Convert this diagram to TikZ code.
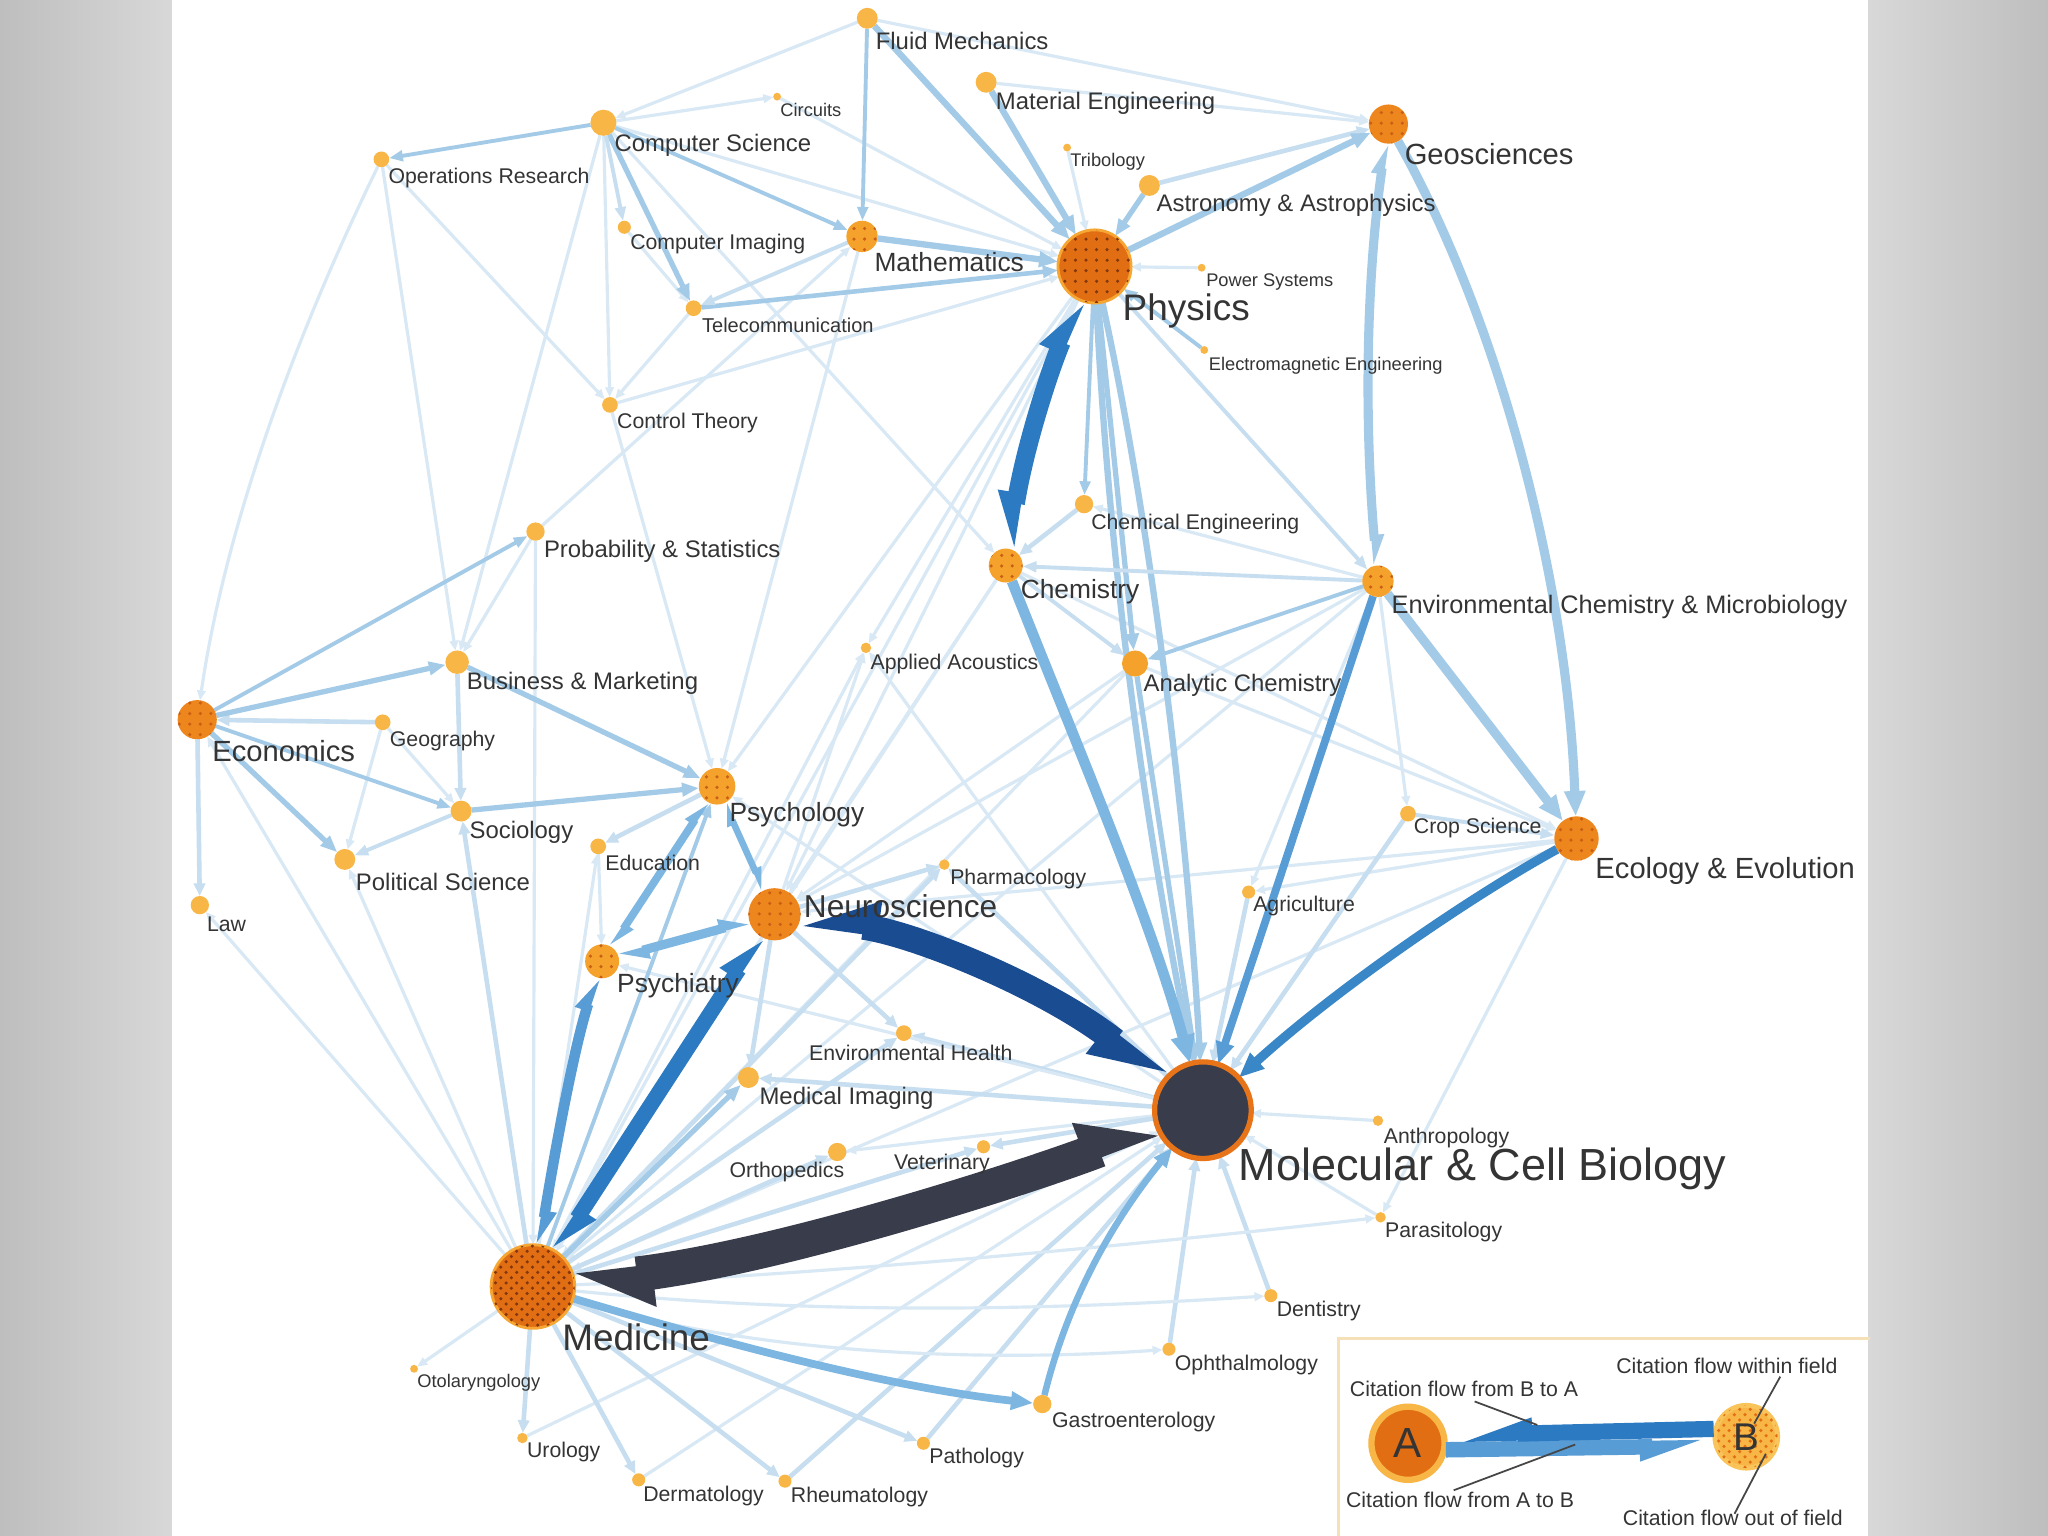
\documentclass[tikz,border=0pt]{standalone}
\usepackage{fontspec}
\setmainfont{Liberation Sans}
\usetikzlibrary{arrows.meta,calc,patterns}
\pgfdeclarelayer{back}
\pgfdeclarelayer{edges}
\pgfsetlayers{back,edges,main}
\definecolor{c0}{RGB}{216,232,244}
\definecolor{c1}{RGB}{198,222,239}
\definecolor{c2}{RGB}{163,202,231}
\definecolor{c3}{RGB}{125,182,224}
\definecolor{c4}{RGB}{88,156,213}
\definecolor{c45}{RGB}{58,135,200}
\definecolor{c5}{RGB}{44,122,193}
\definecolor{c6}{RGB}{26,76,146}
\definecolor{cdk}{RGB}{57,60,74}
\definecolor{oS}{RGB}{247,182,70}
\definecolor{oM}{RGB}{245,162,45}
\definecolor{oD}{RGB}{238,134,30}
\definecolor{oL}{RGB}{226,110,20}
\definecolor{oR}{RGB}{232,116,26}
\definecolor{oRing}{RGB}{246,166,50}
\definecolor{brn}{RGB}{130,55,15}
\definecolor{dotc}{RGB}{200,95,20}
\definecolor{tx}{RGB}{52,52,52}
\definecolor{lbx}{RGB}{246,224,184}
\definecolor{ld}{RGB}{70,70,70}
\newcommand\szT{\fontsize{5.2}{6}\selectfont}
\newcommand\szS{\fontsize{6.05}{7}\selectfont}
\newcommand\szN{\fontsize{6.8}{8}\selectfont}
\newcommand\szM{\fontsize{7.5}{9}\selectfont}
\newcommand\szB{\fontsize{8.3}{10}\selectfont}
\newcommand\szNe{\fontsize{9}{11}\selectfont}
\newcommand\szH{\fontsize{10.5}{12}\selectfont}
\newcommand\szX{\fontsize{12.8}{15}\selectfont}
\tikzset{
  fn/.style={circle,inner sep=0pt,outer sep=0pt,minimum size=#1*0.026122cm,fill=oS,draw=none},
  dotted fill/.style={postaction={pattern=dots,pattern color=dotc}},
  lab/.style={anchor=west,inner sep=0pt,text=tx},
  e0/.style={draw=c0,line width=0.9pt,-{Stealth[inset=0pt,length=2.8pt,width=2.4pt]}},
  e1/.style={draw=c1,line width=1.3pt,-{Stealth[inset=0pt,length=3.6pt,width=3.2pt]}},
  fw/.style 2 args={draw=#1,line width=#2,-{Stealth[inset=0pt,length=1.5pt 2.2,width=1pt 1.8]}},
  bwL/.style 2 args={draw=#1,line width=#2,{Stealth[harpoon,inset=0pt,length=1pt 2.2,width=0.5pt 1.9]}-{Stealth[harpoon,inset=0pt,length=1pt 2.2,width=0.5pt 1.9]}},
  bwR/.style 2 args={draw=#1,line width=#2,{Stealth[harpoon,swap,inset=0pt,length=1pt 2.2,width=0.5pt 1.9]}-{Stealth[harpoon,swap,inset=0pt,length=1pt 2.2,width=0.5pt 1.9]}},
  bwM/.style 2 args={draw=#1,line width=#2,{Stealth[harpoon,swap,inset=0pt,length=1pt 2.2,width=0.5pt 1.9]}-{Stealth[harpoon,inset=0pt,length=1pt 2.2,width=0.5pt 1.9]}},
  bwD/.style 2 args={draw=#1,line width=#2,{Stealth[harpoon,inset=0pt,length=1pt 1.7,width=0.5pt 1.8]}-{Stealth[harpoon,inset=0pt,length=1pt 1.7,width=0.5pt 1.8]}},
  lead/.style={draw=ld,line width=0.5pt},
}
\begin{document}
\begin{tikzpicture}[x=0.013061cm,y=-0.013061cm]
\useasboundingbox (0,0) rectangle (1568,1176);
\begin{pgfonlayer}{back}
\shade[left color={rgb,255:red,190;green,190;blue,190},right color={rgb,255:red,216;green,216;blue,216}] (0,0) rectangle (132,1176);
\shade[left color={rgb,255:red,216;green,216;blue,216},right color={rgb,255:red,190;green,190;blue,190}] (1430,0) rectangle (1568,1176);
\fill[white] (132,0) rectangle (1430,1176);
\end{pgfonlayer}

% ---------------- nodes
\node[fn=8] (fluid) at (664,14) {};
\node[fn=8] (mateng) at (755,63) {};
\node[fn=3] (circ) at (595,74) {};
\node[fn=10] (cs) at (462,94) {};
\node[fn=6] (opsr) at (292,122) {};
\node[fn=15,fill=oD,dotted fill] (geo) at (1063,95) {};
\node[fn=3] (trib) at (817,113) {};
\node[fn=8] (astro) at (880,142) {};
\node[fn=5] (cimg) at (478,174) {};
\node[fn=12,fill=oM,dotted fill] (math) at (660,181) {};
\node[fn=28,fill=oL,draw=oRing,line width=0.8pt,postaction={pattern=dots,pattern color=brn}] (phys) at (838,204) {};
\node[fn=3] (powsys) at (920,205) {};
\node[fn=6] (tele) at (531,236) {};
\node[fn=3] (eme) at (922,268) {};
\node[fn=6] (ctrl) at (467,310) {};
\node[fn=7] (cheme) at (830,386) {};
\node[fn=7] (prob) at (410,407) {};
\node[fn=13,fill=oM,dotted fill] (chem) at (770,433) {};
\node[fn=12,fill=oM,dotted fill] (envc) at (1055,445) {};
\node[fn=4] (acou) at (663,496) {};
\node[fn=10,fill=oM] (anch) at (869,508) {};
\node[fn=9] (bus) at (350,507) {};
\node[fn=15,fill=oD,dotted fill] (econ) at (151,551) {};
\node[fn=6] (geog) at (293,553) {};
\node[fn=14,fill=oM,dotted fill] (psyc) at (549,602) {};
\node[fn=8] (soc) at (353,621) {};
\node[fn=6] (crop) at (1078,623) {};
\node[fn=17,fill=oD,dotted fill] (eco) at (1207,642) {};
\node[fn=6] (edu) at (458,648) {};
\node[fn=8] (pol) at (264,658) {};
\node[fn=4] (pharm) at (723,662) {};
\node[fn=5] (agri) at (956,683) {};
\node[fn=7] (law) at (153,693) {};
\node[fn=20,fill=oD,dotted fill] (neuro) at (593,700) {};
\node[fn=13,fill=oM,dotted fill] (psyi) at (461,736) {};
\node[fn=6] (envh) at (692,791) {};
\node[fn=8] (medimg) at (573,825) {};
\node[fn=37,fill=cdk,draw=oR,line width=1.5pt] (mcb) at (921,850) {};
\node[fn=4] (anth) at (1055,858) {};
\node[fn=7] (orth) at (641,882) {};
\node[fn=5] (vet) at (753,878) {};
\node[fn=4] (para) at (1057,932) {};
\node[fn=32,fill=oL,draw=oRing,line width=0.8pt,postaction={pattern=crosshatch dots,pattern color=brn}] (med) at (408,985) {};
\node[fn=5] (dent) at (973,992) {};
\node[fn=5] (oph) at (895,1033) {};
\node[fn=3] (otol) at (317,1048) {};
\node[fn=7] (gast) at (798,1075) {};
\node[fn=4] (urol) at (400,1101) {};
\node[fn=5] (path) at (707,1105) {};
\node[fn=5] (derm) at (489,1133) {};
\node[fn=5] (rheu) at (601,1134) {};

% ---------------- edges
\begin{pgfonlayer}{edges}
% very thin
\draw[e0] (fluid) -- (cs);
\draw[e0] (fluid) -- (geo);
\draw[e0] (mateng) -- (geo);
\draw[e0] (circ) -- (phys);
\draw[e0] (cs) -- (circ);
\draw[e0] (cs) -- (ctrl);
\draw[e0] (cs) -- (bus);
\draw[e0] (cs) -- (chem);
\draw[e0] (cs) -- (phys);
\draw[e0] (opsr) -- (ctrl);
\draw[e0] (opsr) -- (bus);
\draw[e0] (opsr) .. controls (215,280) and (170,420) .. (econ);
\draw[e0] (cimg) -- (tele);
\draw[e0] (tele) -- (ctrl);
\draw[e0] (ctrl) -- (phys);
\draw[e0] (ctrl) -- (psyc);
\draw[e0] (prob) -- (math);
\draw[e0] (prob) -- (bus);
\draw[e0] (prob) -- (med);
\draw[e0] (math) -- (psyc);
\draw[e0] (phys) -- (neuro);
\draw[e0] (phys) -- (med);
\draw[e0] (phys) -- (psyc);
\draw[e0] (phys) -- (acou);
\draw[e0] (trib) -- (phys);
\draw[e0] (powsys) -- (phys);
\draw[e1] (astro) -- (geo);
\draw[e0] (chem) -- (med);
\draw[e0] (chem) -- (neuro);
\draw[e0] (chem) -- (eco);
\draw[e1] (cheme) -- (chem);
\draw[e0] (envc) -- (cheme);
\draw[e0] (envc) -- (crop);
\draw[e0] (envc) -- (agri);
\draw[e0] (envc) -- (neuro);
\draw[e0] (envc) -- (med);
\draw[e0] (anch) -- (eco);
\draw[e0] (anch) -- (neuro);
\draw[e0] (anch) -- (med);
\draw[e0] (eco) -- (agri);
\draw[e0] (eco) -- (neuro);
\draw[e0] (eco) -- (med);
\draw[e0] (eco) -- (para);
\draw[e1] (crop) -- (mcb);
\draw[e1] (agri) -- (mcb);
\draw[e0] (anth) -- (mcb);
\draw[e0] (para) -- (mcb);
\draw[e1] (dent) -- (mcb);
\draw[e1] (oph) -- (mcb);
\draw[e1] (path) -- (mcb);
\draw[e1] (rheu) -- (mcb);
\draw[e0] (derm) -- (mcb);
\draw[e0] (urol) -- (mcb);
\draw[e1] (mcb) -- (medimg);
\draw[e1] (mcb) -- (envh);
\draw[e1] (mcb) -- (pharm);
\draw[e0] (mcb) -- (orth);
\draw[e1] (mcb) -- (vet);
\draw[e0] (mcb) -- (psyi);
\draw[e0] (mcb) -- (psyc);
\draw[e0] (mcb) -- (acou);
\draw[e1] (med) -- (envh);
\draw[e1] (med) -- (orth);
\draw[e1] (med) -- (vet);
\draw[e1] (med) -- (pharm);
\draw[e0] (med) -- (otol);
\draw[e1] (med) -- (urol);
\draw[e1] (med) -- (derm);
\draw[e1] (med) -- (rheu);
\draw[e1] (med) -- (path);
\draw[e0] (med) .. controls (600,1045) and (800,1040) .. (oph);
\draw[e0] (med) .. controls (650,1010) and (850,1000) .. (dent);
\draw[e0] (med) .. controls (650,975) and (900,950) .. (para);
\draw[e0] (med) -- (edu);
\draw[e1] (med) -- (soc);
\draw[e0] (med) -- (pol);
\draw[e0] (med) -- (law);
\draw[e0] (med) -- (econ);
\draw[e0] (med) -- (acou);
\draw[e1] (neuro) -- (medimg);
\draw[e1] (neuro) -- (envh);
\draw[e1] (neuro) -- (pharm);
\draw[e0] (neuro) -- (acou);
\draw[e1] (psyc) -- (edu);
\draw[e1] (geog) -- (econ);
\draw[e1] (econ) -- (law);
\draw[e0] (geog) -- (soc);
\draw[e0] (geog) -- (pol);
\draw[e1] (bus) -- (soc);
\draw[e0] (edu) -- (psyi);
% medium
\draw[fw={c2}{1.8pt}] (fluid) -- (phys);
\draw[fw={c2}{1.1pt}] (fluid) -- (math);
\draw[fw={c2}{1.8pt}] (mateng) -- (phys);
\draw[fw={c2}{1.8pt}] (math) -- (phys);
\draw[fw={c2}{1.5pt}] (astro) -- (phys);
\draw[fw={c2}{1.8pt}] (phys) -- (geo);
\draw[fw={c2}{1.1pt}] (eme) -- (phys);
\draw[fw={c2}{1.1pt}] (phys) -- (cheme);
\draw[fw={c2}{1.5pt}] (phys) -- (anch);
\draw[fw={c2}{1.8pt}] (phys) .. controls (850,450) and (880,650) .. (mcb);
\draw[fw={c2}{1.8pt}] (phys) .. controls (885,420) and (910,650) .. (mcb);
\draw[fw={c1}{1.1pt}] (phys) -- (envc);
\draw[fw={c2}{1.5pt}] (cs) -- (tele);
\draw[fw={c2}{1.1pt}] (cs) -- (opsr);
\draw[fw={c2}{1.1pt}] (cs) -- (math);
\draw[fw={c2}{1.3pt}] (tele) -- (phys);
\draw[fw={c1}{1.1pt}] (math) -- (tele);
\draw[fw={c1}{1.1pt}] (cs) -- (cimg);
\draw[fw={c2}{1.5pt}] (econ) -- (bus);
\draw[fw={c2}{1.5pt}] (econ) -- (pol);
\draw[fw={c2}{1.1pt}] (econ) -- (soc);
\draw[fw={c2}{1.1pt}] (econ) -- (prob);
\draw[fw={c1}{1.1pt}] (soc) -- (pol);
\draw[fw={c2}{1.5pt}] (bus) -- (psyc);
\draw[fw={c2}{1.5pt}] (soc) -- (psyc);
\draw[fw={c1}{1.1pt}] (chem) -- (anch);
\draw[fw={c1}{1.1pt}] (envc) -- (chem);
\draw[fw={c2}{1.1pt}] (envc) -- (anch);
\draw[fw={c2}{1.5pt}] (anch) -- (mcb);
\draw[fw={c1}{1.1pt}] (crop) -- (eco);
\draw[fw={c2}{1.5pt}] (med) -- (medimg);
\draw[fw={c2}{1.1pt}] (med) -- (psyc);
\draw[fw={c3}{2.2pt}] (med) .. controls (560,1030) and (680,1062) .. (gast);
\draw[fw={c3}{1.85pt}] (gast) .. controls (820,985) and (860,925) .. (mcb);
% bands
\draw[bwL={c3}{2.2pt}] (psyc) -- (psyi);
\draw[bwL={c3}{1.85pt}] (psyc) -- (neuro);
\draw[bwL={c3}{2.6pt}] (psyi) -- (neuro);
\draw[bwL={c4}{3pt}] (med) .. controls (425,880) and (440,800) .. (psyi);
\draw[bwL={c5}{4.4pt}] (med) -- (neuro);
\draw[fw={c3}{3pt}] (chem) .. controls (820,560) and (880,700) .. (mcb);
\draw[fw={c4}{2.2pt}] (envc) -- (mcb);
\draw[fw={c45}{2.6pt}] (eco) .. controls (1120,690) and (1020,760) .. (mcb);
\draw[bwL={c2}{2.6pt}] (geo) .. controls (1045,220) and (1045,330) .. (envc);
\draw[fw={c2}{2.6pt}] (geo) .. controls (1150,250) and (1200,450) .. (eco);
\draw[fw={c2}{2.6pt}] (envc) -- (eco);
\draw[bwM={c5}{5.2pt}] (chem) .. controls (785,340) and (805,280) .. (phys);
\draw[bwR={c6}{7.4pt}] (neuro) .. controls (700,715) and (800,755) .. (mcb);
\draw[bwD={cdk}{10pt}] (med) .. controls (600,962) and (790,900) .. (mcb);
\end{pgfonlayer}

% ---------------- labels
\node[lab,font=\szN] (Lfluid) at (670,31) {Fluid Mechanics};
\node[lab,font=\szN] (Lmateng) at (762,79) {Material Engineering};
\node[lab,font=\szT] (Lcirc) at (597,84) {Circuits};
\node[lab,font=\szN] (Lcs) at (470,111) {Computer Science};
\node[lab,font=\szS] (Lopsr) at (297,136) {Operations Research};
\node[lab,font=\szB] (Lgeo) at (1075,118) {Geosciences};
\node[lab,font=\szT] (Ltrib) at (819,124) {Tribology};
\node[lab,font=\szN] (Lastro) at (885,157) {Astronomy \& Astrophysics};
\node[lab,font=\szS] (Lcimg) at (482,187) {Computer Imaging};
\node[lab,font=\szM] (Lmath) at (669,201) {Mathematics};
\node[lab,font=\szH] (Lphys) at (859,238) {Physics};
\node[lab,font=\szT] (Lpowsys) at (923,216) {Power Systems};
\node[lab,font=\fontsize{5.7}{7}\selectfont] (Ltele) at (537,249) {Telecommunication};
\node[lab,font=\szT] (Leme) at (925,280) {Electromagnetic Engineering};
\node[lab,font=\szS] (Lctrl) at (472,324) {Control Theory};
\node[lab,font=\szS] (Lcheme) at (835,401) {Chemical Engineering};
\node[lab,font=\szN] (Lprob) at (416,422) {Probability \& Statistics};
\node[lab,font=\szM] (Lchem) at (781,453) {Chemistry};
\node[lab,font=\fontsize{7.2}{9}\selectfont] (Lenvc) at (1065,465) {Environmental Chemistry \& Microbiology};
\node[lab,font=\szS] (Lacou) at (666,508) {Applied Acoustics};
\node[lab,font=\szN] (Lanch) at (875,525) {Analytic Chemistry};
\node[lab,font=\szN] (Lbus) at (357,523) {Business \& Marketing};
\node[lab,font=\szB] (Lecon) at (162,575) {Economics};
\node[lab,font=\szS] (Lgeog) at (298,567) {Geography};
\node[lab,font=\szM] (Lpsyc) at (558,624) {Psychology};
\node[lab,font=\szN] (Lsoc) at (359,637) {Sociology};
\node[lab,font=\szS] (Lcrop) at (1082,634) {Crop Science};
\node[lab,font=\szB] (Leco) at (1221,667) {Ecology \& Evolution};
\node[lab,font=\szS] (Ledu) at (463,661) {Education};
\node[lab,font=\szN] (Lpol) at (272,675) {Political Science};
\node[lab,font=\szS] (Lpharm) at (727,673) {Pharmacology};
\node[lab,font=\szS] (Lagri) at (959,694) {Agriculture};
\node[lab,font=\szS] (Llaw) at (158,708) {Law};
\node[lab,font=\szNe] (Lneuro) at (615,694) {Neuroscience};
\node[lab,font=\szM] (Lpsyi) at (472,755) {Psychiatry};
\node[lab,font=\szS] (Lenvh) at (619,806) {Environmental Health};
\node[lab,font=\szN] (Lmedimg) at (581,841) {Medical Imaging};
\node[lab,font=\szX] (Lmcb) at (948,895) {Molecular \& Cell Biology};
\node[lab,font=\szS] (Lanth) at (1059,871) {Anthropology};
\node[lab,font=\szS] (Lorth) at (558,897) {Orthopedics};
\node[lab,font=\szS] (Lvet) at (684,891) {Veterinary};
\node[lab,font=\szS] (Lpara) at (1060,943) {Parasitology};
\node[lab,font=\szH] (Lmed) at (430,1024) {Medicine};
\node[lab,font=\szS] (Ldent) at (977,1004) {Dentistry};
\node[lab,font=\szS] (Loph) at (899,1045) {Ophthalmology};
\node[lab,font=\szT] (Lotol) at (319,1059) {Otolaryngology};
\node[lab,font=\szS] (Lgast) at (805,1089) {Gastroenterology};
\node[lab,font=\szS] (Lurol) at (403,1112) {Urology};
\node[lab,font=\szS] (Lpath) at (711,1116) {Pathology};
\node[lab,font=\szS] (Lderm) at (492,1145) {Dermatology};
\node[lab,font=\szS] (Lrheu) at (605,1146) {Rheumatology};

% ---------------- legend
\draw[draw=lbx,line width=0.9pt] (1025,1176) -- (1025,1025) -- (1432,1025);
\node[fn=28,fill=oL,draw=oS,line width=1.8pt,text=tx,font=\fontsize{12}{12}\selectfont] (lA) at (1078,1105) {A};
\node[fn=24,fill=oS,draw={rgb,255:red,249;green,196;blue,90},line width=1.4pt,text=tx,font=\fontsize{11}{11}\selectfont,postaction={pattern=crosshatch dots,pattern color=oL}] (lB) at (1337,1100) {B};
\draw[draw=c4,line width=4.4pt,-{Stealth[harpoon,swap,inset=0pt,length=14pt,width=7pt]}] ($(lA.center)+(29,5)$) -- ($(lB.center)+(-25,7)$);
\draw[draw=c5,line width=4.6pt,-{Stealth[harpoon,swap,inset=0pt,length=16pt,width=7.5pt]}] ($(lB.center)+(-25,-6)$) -- ($(lA.center)+(29,-6)$);
\node[lab,font=\szS] (lg1) at (1237,1046) {Citation flow within field};
\node[lab,font=\szS] (lg2) at (1033,1063) {Citation flow from B to A};
\node[lab,font=\szS] (lg3) at (1030,1148) {Citation flow from A to B};
\node[lab,font=\szS] (lg4) at (1242,1162) {Citation flow out of field};
\coordinate (k1a) at (1129,1073); \coordinate (k1b) at (1177,1091);
\coordinate (k2a) at (1113,1141); \coordinate (k2b) at (1206,1106);
\coordinate (k3a) at (1363,1054); \coordinate (k3b) at (1343,1090);
\coordinate (k4a) at (1328,1159); \coordinate (k4b) at (1352,1113);
\draw[lead] (k1a) -- (k1b);
\draw[lead] (k2a) -- (k2b);
\draw[lead] (k3a) -- (k3b);
\draw[lead] (k4a) -- (k4b);
\end{tikzpicture}
\end{document}
